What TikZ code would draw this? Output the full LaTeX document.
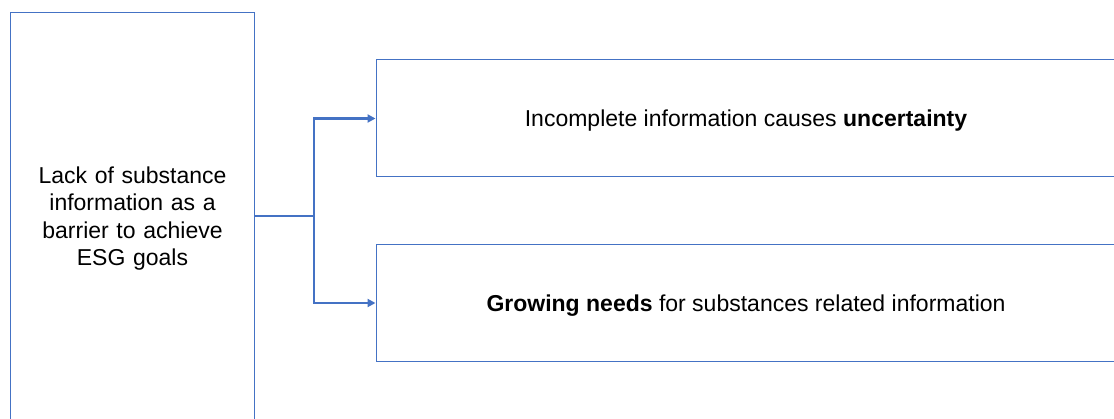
\documentclass[tikz,border=0pt]{standalone}
\usepackage{fontspec}
\setmainfont{Liberation Sans}
\usetikzlibrary{arrows.meta}
\definecolor{boxblue}{HTML}{4472C4}
\begin{document}
\begin{tikzpicture}[x=1pt,y=1pt,
  box/.style={draw=boxblue, line width=1pt, inner sep=0pt},
  label text/.style={inner sep=0pt, align=center, yshift=-2.5pt,
    font=\fontsize{23}{27.5}\selectfont},
  link/.style={draw=boxblue, line width=2.3pt, line join=miter}]
\useasboundingbox (0,0) rectangle (1114,418);
\clip (0,0) rectangle (1114,418);
% cause box on the left (runs past the lower edge)
\node[box, minimum width=244pt, minimum height=407.5pt] (cause) at (132.5,201.75) {};
\node[label text, text width=230pt] (causeText) at (cause.center)
  {Lack of substance\\information as a\\barrier to achieve\\ESG goals};
% effect boxes on the right (run past the right edge)
\node[box, minimum width=740pt, minimum height=117pt] (effA) at (746,299.5) {};
\node[label text] (effAText) at (effA.center)
  {Incomplete information causes \textbf{uncertainty}};
\node[box, minimum width=740pt, minimum height=116pt] (effB) at (746,115) {};
\node[label text] (effBText) at (effB.center)
  {\textbf{Growing needs} for substances related information};
% branching connector: stem, then one bracket with a tip at each end
\coordinate (split) at (314,201.75);
\draw[link] (cause.east) -- (split);
\draw[link, {Triangle[length=8pt,width=8pt]}-{Triangle[length=8pt,width=8pt]}]
  (effA.west) -| (split) |- (effB.west);
\end{tikzpicture}
\end{document}
